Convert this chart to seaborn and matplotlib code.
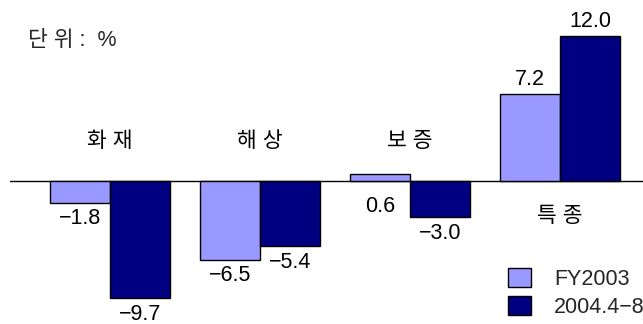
import matplotlib
matplotlib.use("Agg")
import matplotlib.pyplot as plt
import seaborn as sns
import pandas as pd

# Loss-ratio change by line of business (unit: %)
categories = ["화 재", "해 상", "보 증", "특 종"]
series_names = ["FY2003", "2004.4−8"]
fy2003 = [-1.8, -6.5, 0.6, 7.2]
recent = [-9.7, -5.4, -3.0, 12.0]
unit_label = "단 위 :  %"

light = "#9999FF"
dark = "#000080"
FS = 15.5

sns.set_style("white")
plt.rcParams["font.family"] = ["Liberation Sans", "Noto Sans CJK KR", "DejaVu Sans"]
plt.rcParams["axes.unicode_minus"] = True

W, H = 643, 324
fig = plt.figure(figsize=(W / 100, H / 100), dpi=100)
ax = fig.add_axes([10 / W, 0, (W - 10) / W, 1])

df = pd.DataFrame({
    "구분": categories * 2,
    "기간": [series_names[0]] * len(categories) + [series_names[1]] * len(categories),
    "값": fy2003 + recent,
})

sns.barplot(data=df, x="구분", y="값", hue="기간", order=categories,
            hue_order=series_names, palette=[light, dark], saturation=1,
            edgecolor="black", linewidth=1.0, width=0.8, errorbar=None, ax=ax)

ax.set_xlim(-0.667, 3.553)
ax.set_ylim(-11.82, 14.96)
ax.axhline(0, color="black", lw=1.0, zorder=0.5)
ax.axis("off")

PX = 72 / 100  # points per pixel


def fmt(v):
    return f"{v:.1f}".replace("-", "−")


# value labels
for cont, vals in zip(ax.containers, [fy2003, recent]):
    for bar, v in zip(cont, vals):
        x = bar.get_x() + bar.get_width() / 2
        if v < 0:
            y, off = v, -16
        elif v < 1:
            y, off = 0, -26
        else:
            y, off = v, 14
        ax.annotate(fmt(v), (x, y), xytext=(0, off * PX), textcoords="offset points",
                    ha="center", va="center", fontsize=FS, color="black")

# category names on the side opposite the bars
for i, cat in enumerate(categories):
    hi, lo = max(fy2003[i], recent[i]), min(fy2003[i], recent[i])
    off = -36 if hi > -lo else 39
    ax.annotate(cat, (i, 0), xytext=(0, off * PX), textcoords="offset points",
                ha="center", va="center", fontsize=FS, color="black")

fig.text(28 / W, 1 - 41 / H, unit_label, ha="left", va="center", fontsize=FS)

old = ax.get_legend()
handles = old.legend_handles
labels = [t.get_text() for t in old.get_texts()]
old.remove()
for h in handles:
    h.set_edgecolor("black")
    h.set_linewidth(1.0)
ax.legend(handles, labels, loc="upper left",
          bbox_to_anchor=(508 / W, 1 - 268 / H), bbox_transform=fig.transFigure,
          frameon=False, fontsize=FS, handlelength=1.05, handleheight=0.95,
          handletextpad=1.1, labelspacing=0.3, borderpad=0, borderaxespad=0)

fig.savefig("out.png", dpi=100)
